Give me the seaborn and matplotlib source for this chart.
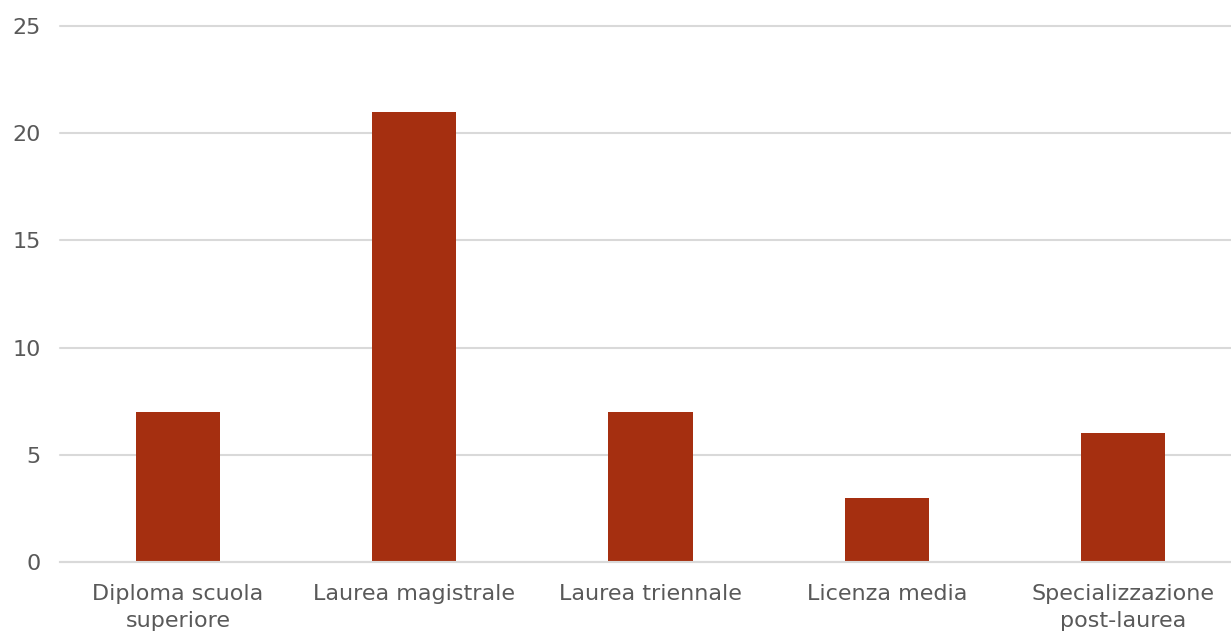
import matplotlib
matplotlib.use("Agg")
import matplotlib.pyplot as plt
import seaborn as sns

categories = ["Diploma scuola\nsuperiore", "Laurea magistrale", "Laurea triennale",
              "Licenza media", "Specializzazione\npost-laurea"]
values = [7, 21, 7, 3, 6]
yticks = [0, 5, 10, 15, 20, 25]

sns.set_style("white")
plt.rcParams["font.family"] = ["DejaVu Sans"]

fig = plt.figure(figsize=(12.31, 6.34), dpi=100)
ax = fig.add_axes([60 / 1231, 72 / 634, 1181 / 1231, 536 / 634])

sns.barplot(x=categories, y=values, color="#A52F10", width=0.356, saturation=1,
            linewidth=0, ax=ax)

ax.set_ylim(0, 25)
ax.set_xlim(-0.5, 4.5)
ax.set_yticks(yticks)
ax.yaxis.grid(True, color="#D9D9D9", linewidth=1.5)
for gl in ax.get_ygridlines():
    gl.set_clip_on(False)
ax.set_axisbelow(True)
for s in ["top", "right", "left"]:
    ax.spines[s].set_visible(False)
ax.spines["bottom"].set_color("#D9D9D9")
ax.spines["bottom"].set_linewidth(1.5)
ax.tick_params(axis="both", length=0, labelsize=16, colors="#595959")
ax.tick_params(axis="y", pad=14)
ax.tick_params(axis="x", pad=16)
for lbl in ax.get_xticklabels():
    lbl.set_linespacing(1.45)

fig.savefig("out.png", dpi=100)
